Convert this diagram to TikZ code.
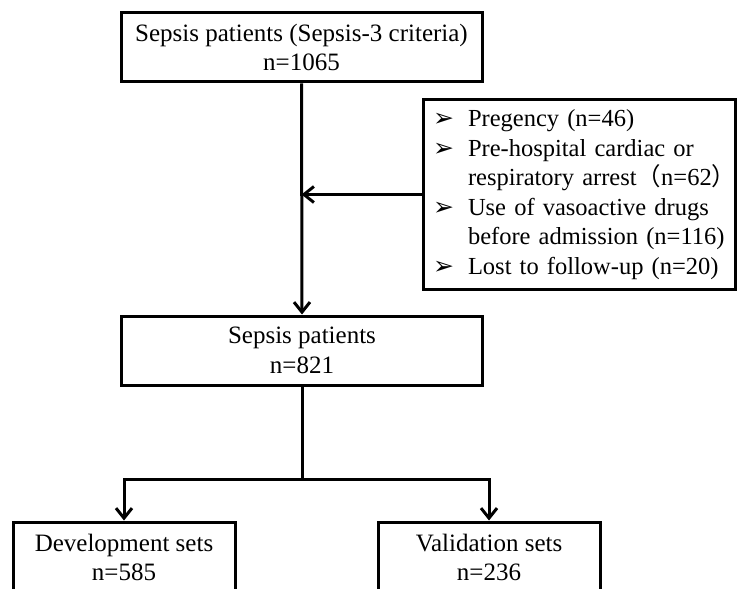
\documentclass[tikz,border=0pt]{standalone}
\usepackage{fontspec}
\setmainfont{Liberation Serif}
\newfontfamily\symfont{DejaVu Sans}
\newfontfamily\cjk{Noto Sans CJK SC}
\usetikzlibrary{arrows.meta}
\tikzset{
  box/.style={draw, line width=1.5pt, minimum width=180.5pt, minimum height=34.5pt, inner sep=0pt, align=center},
  setbox/.style={box, minimum width=111pt, minimum height=35.5pt},
  exclbox/.style={draw, line width=1.5pt, minimum width=156pt, minimum height=94.5pt, inner xsep=5pt, inner ysep=0pt, text width=146pt, align=left, font=\fontsize{12.25}{14.7}\selectfont},
  flow/.style={line width=1.5pt, -{Straight Barb[length=5pt,width=8pt]}},
  link/.style={line width=1.5pt}
}
\newcommand{\tick}{{\symfont\fontsize{12.5}{14.7}\selectfont ➢}}
\begin{document}
\begin{tikzpicture}[x=0.5pt, y=-0.5pt, font=\fontsize{12.5}{14.7}\selectfont]
  \useasboundingbox (0,0) rectangle (737,588);
  \clip (0,0) rectangle (737,588);

  % Boxes
  \node[box] (all) at (301.5,47.5) {Sepsis patients (Sepsis-3 criteria)\\n=1065};
  \node[exclbox] (excl) at (579,194.5) {%
    \begin{tabular}{@{}p{17.5pt}@{}l@{}}
      \tick & Pregency (n=46)\\
      \tick & Pre-hospital cardiac or\\
            & respiratory arrest{\cjk （}n=62{\cjk ）}\\
      \tick & Use of vasoactive drugs\\
            & before admission (n=116)\\
      \tick & Lost to follow-up (n=20)
    \end{tabular}};
  \node[box] (kept) at (302,350.5) {Sepsis patients\\n=821};
  \node[setbox] (dev) at (124,557.5) {Development sets\\n=585};
  \node[setbox] (val) at (489,557.5) {Validation sets\\n=236};

  % Connectors
  \coordinate (split) at (302,479);
  \draw[flow] (all.south) -- (kept.north);
  \draw[flow] (excl.west) -- (excl.west -| all.south);
  \draw[link] (kept.south) -- (split);
  \draw[flow] (split) -| (dev.north);
  \draw[flow] (split) -| (val.north);
\end{tikzpicture}
\end{document}
